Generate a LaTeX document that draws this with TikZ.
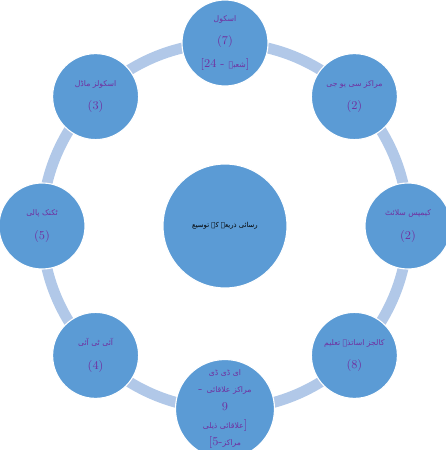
\documentclass[tikz,border=0pt]{standalone}
\usepackage{fontspec}
\usepackage{tikz}
\TeXXeTstate=1
\newfontfamily\urdufont[Script=Arabic]{DejaVu Sans}
\definecolor{ring}{HTML}{B1C8E8}
\definecolor{disc}{HTML}{5B9BD5}
\definecolor{label}{HTML}{7030A0}
\newcommand{\ur}[1]{{\urdufont\fontsize{5.5}{6}\selectfont\beginR #1\endR}}

\begin{document}
\begin{tikzpicture}[
  hub/.style={circle,draw=white,thick,fill=disc,minimum size=3.1cm,
    inner sep=1pt,align=center},
  spoke/.style={circle,draw=white,thick,fill=disc,minimum size=2.15cm,
    inner sep=1pt,align=center,text=label,
    font=\fontsize{8.5}{16.5}\selectfont}
]
  \useasboundingbox (-5.625,-5.6) rectangle (5.525,5.65);
  \draw[ring,line width=0.27cm] (0,0) circle (4.575);

  \node[hub] (hub) at (0,0)
    {{\urdufont\fontsize{4.9}{7}\selectfont\beginR رسائی ذریعہ کے توسیع\endR}};

  \node[spoke] (school) at (90:4.575)
    {\ur{اسکول}\\(7)\\{}[24 - \ur{شعبے}]};
  \node[spoke] (cug) at (45:4.575)
    {\ur{مراکز سی یو جی}\\(2)};
  \node[spoke] (campus) at (0:4.575)
    {\ur{کیمپس سلائٹ}\\(2)};
  \node[spoke] (college) at (-45:4.575)
    {\ur{کالجز اساتذہ تعلیم}\\(8)};
  \node[spoke,font=\fontsize{8.5}{12.5}\selectfont] (regional) at (-90:4.575)
    {\ur{ای ڈی ڈی}\\{}- \ur{مراکز علاقائی}\\9\\
     \ur{علاقائی ذیلی}]\\{}[5-\ur{مراکز}};
  \node[spoke] (iti) at (-135:4.575)
    {\ur{آئی ٹی آئی}\\(4)};
  \node[spoke] (poly) at (180:4.575)
    {\ur{ٹکنک پالی}\\(5)};
  \node[spoke] (model) at (135:4.575)
    {\ur{اسکولز ماڈل}\\(3)};
\end{tikzpicture}
\end{document}
